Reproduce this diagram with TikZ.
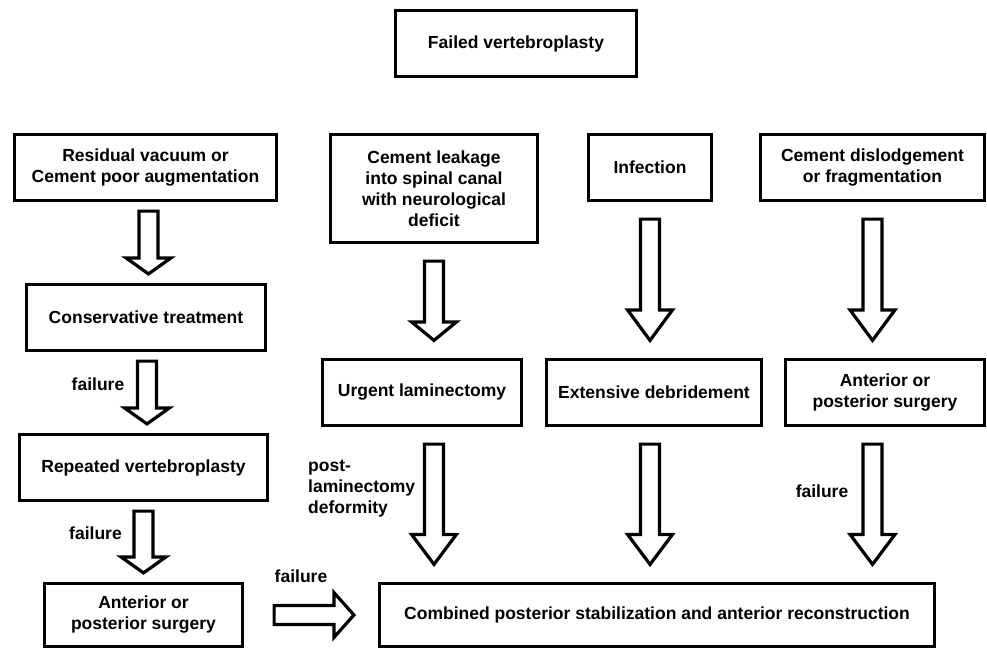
\documentclass[tikz,border=0pt]{standalone}
\usepackage{fontspec}
\setmainfont{Liberation Sans}
\usetikzlibrary{calc}

\tikzset{
  tail gap/.store in=\tailgap,
  tip gap/.store in=\tipgap,
  head len/.store in=\headlen,
  tail gap=9pt, tip gap=9pt, head len=16pt,
}

\begin{document}
\begin{tikzpicture}[x=1pt,y=-1pt,
  main box/.style={draw,line width=3.2pt,align=center,inner sep=0pt,
    font=\bfseries\fontsize{17.5}{21}\selectfont},
  side note/.style={inner sep=0pt,font=\bfseries\fontsize{17.5}{21}\selectfont},
  block arrow/.style={draw,line width=3.2pt,line join=miter,miter limit=20,
    to path={
      ($(\tikztostart)!\tailgap!(\tikztotarget)$) coordinate (ba-s)
      ($(\tikztotarget)!\tipgap!(\tikztostart)$) coordinate (ba-t)
      ($(ba-t)!\headlen!(ba-s)$) coordinate (ba-h)
      ($(ba-s)!9.5pt!90:(ba-t)$) -- ($(ba-h)!9.5pt!90:(ba-t)$)
      -- ($(ba-h)!22.5pt!90:(ba-t)$) -- (ba-t)
      -- ($(ba-h)!22.5pt!-90:(ba-t)$) -- ($(ba-h)!9.5pt!-90:(ba-t)$)
      -- ($(ba-s)!9.5pt!-90:(ba-t)$) -- cycle}}]
  \useasboundingbox (0,0) rectangle (987,650);

  % boxes
  \node[main box,minimum width=241pt,minimum height=66pt] (fv) at (516,43.5) {Failed vertebroplasty};
  \node[main box,minimum width=262pt,minimum height=66pt] (rv) at (145.5,167.5) {Residual vacuum or\\Cement poor augmentation};
  \node[main box,minimum width=207pt,minimum height=108pt] (lk) at (434,188.5) {Cement leakage\\into spinal canal\\with neurological\\deficit};
  \node[main box,minimum width=123pt,minimum height=66pt] (in) at (650,167.5) {Infection};
  \node[main box,minimum width=224pt,minimum height=66pt] (dl) at (872.5,167.5) {Cement dislodgement\\or fragmentation};
  \node[main box,minimum width=239pt,minimum height=66pt] (ct) at (146,317.5) {Conservative treatment};
  \node[main box,minimum width=199pt,minimum height=66pt] (ul) at (422,392.5) {Urgent laminectomy};
  \node[main box,minimum width=215pt,minimum height=66pt] (ed) at (654,392.5) {Extensive debridement};
  \node[main box,minimum width=199pt,minimum height=66pt] (ar) at (885,392.5) {Anterior or\\posterior surgery};
  \node[main box,minimum width=248pt,minimum height=66pt] (rp) at (143.5,467.5) {Repeated vertebroplasty};
  \node[main box,minimum width=198pt,minimum height=63pt] (al) at (143.5,615) {Anterior or\\posterior surgery};
  \node[main box,minimum width=555pt,minimum height=63pt] (cb) at (657,615) {Combined posterior stabilization and anterior reconstruction};

  % labels
  \node[side note] (f1) at (98,384) {failure};
  \node[side note] (f2) at (95.5,533) {failure};
  \node[side note] (f3) at (301,576) {failure};
  \node[side note] (f4) at (822,491) {failure};
  \node[side note,anchor=west,align=left] (pl) at (308,489) {post-\\laminectomy\\deformity};

  % arrows
  \path[block arrow] ([xshift=3pt]rv.south) to ([xshift=3pt]rv.south |- ct.north);
  \path[block arrow] ([xshift=1pt]ct.south) to ([xshift=1pt]ct.south |- rp.north);
  \path[block arrow] (rp.south) to (rp.south |- al.north);
  \path[block arrow,tail gap=30pt,tip gap=24pt,head len=20pt] (al.east) to (al.east -| cb.west);
  \path[block arrow,tail gap=17pt,tip gap=17.5pt,head len=18.5pt] (lk.south) to (lk.south |- ul.north);
  \path[block arrow,tail gap=17pt,tip gap=17.5pt,head len=30.5pt] (in.south) to (in.south |- ed.north);
  \path[block arrow,tail gap=17pt,tip gap=17.5pt,head len=30.5pt] (dl.south) to (dl.south |- ar.north);
  \path[block arrow,tail gap=17pt,tip gap=17.5pt,head len=30pt] (ul.south -| lk.south) to (cb.north -| lk.south);
  \path[block arrow,tail gap=17pt,tip gap=17.5pt,head len=30pt] (ed.south -| in.south) to (cb.north -| in.south);
  \path[block arrow,tail gap=17pt,tip gap=17.5pt,head len=30pt] (ar.south -| dl.south) to (cb.north -| dl.south);
\end{tikzpicture}
\end{document}
